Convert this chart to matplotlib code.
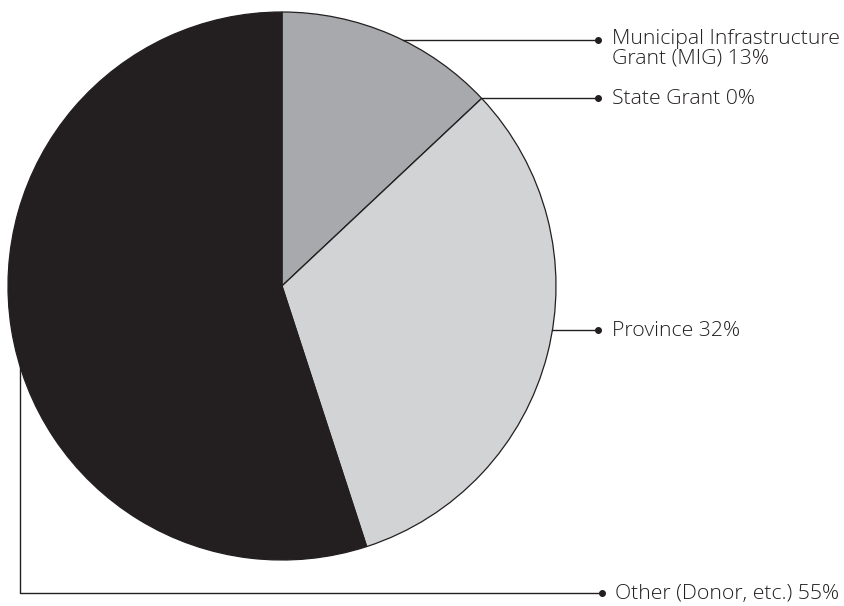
import numpy as np
import matplotlib
matplotlib.use("Agg")
import matplotlib.pyplot as plt

labels = ["Municipal Infrastructure\nGrant (MIG) 13%", "State Grant 0%",
          "Province 32%", "Other (Donor, etc.) 55%"]
shares = [13, 0, 32, 55]
colors = ["#a7a9ac", "#ffffff", "#d1d3d4", "#231f20"]

# pie geometry in pixel units (y measured from the top)
H = 606
cx, cy, r = 282, 286, 274
ink = "#231f20"
font = dict(fontsize=15.3, family="Open Sans", weight="light", color=ink)

fig = plt.figure(figsize=(8.45, 6.06), dpi=100)
ax = fig.add_axes([0, 0, 1, 1])

ax.pie(shares, colors=colors, startangle=90, counterclock=False,
       center=(cx, H - cy), radius=r, frame=True,
       wedgeprops=dict(edgecolor=ink, linewidth=0.9))
ax.set_xlim(0, 845)
ax.set_ylim(0, H)
ax.set_aspect("equal")
ax.axis("off")

def edge_x(y):
    return cx + np.sqrt(r**2 - (y - cy)**2)

def leader(xs, ys, dot_x):
    ax.plot(xs, [H - y for y in ys], color=ink, lw=1)
    ax.plot(dot_x, H - ys[-1], "o", color=ink, ms=4)

dot_x = 598
text_x = 612

# MIG: horizontal leader from the pie edge
y0 = 40
leader([edge_x(y0), dot_x], [y0, y0], dot_x)
ax.text(text_x, H - 49, labels[0], va="center", linespacing=1.0, **font)

# State Grant: leader from the MIG/Province boundary
ang = np.deg2rad(90 - 360 * shares[0] / sum(shares))
bx, by = cx + r * np.cos(ang), cy - r * np.sin(ang)
leader([bx, dot_x], [by, by], dot_x)
ax.text(text_x, H - by - 1, labels[1], va="center", **font)

# Province
y2 = 330
leader([edge_x(y2), dot_x], [y2, y2], dot_x)
ax.text(text_x, H - y2 - 1, labels[2], va="center", **font)

# Other: elbow leader down the left side
lx, ly = 20, 593
top = cy + np.sqrt(r**2 - (lx - cx)**2)
leader([lx, lx, 602], [top, ly, ly], 602)
ax.text(615, H - ly - 1, labels[3], va="center", **font)

fig.savefig("out.png", dpi=100)
